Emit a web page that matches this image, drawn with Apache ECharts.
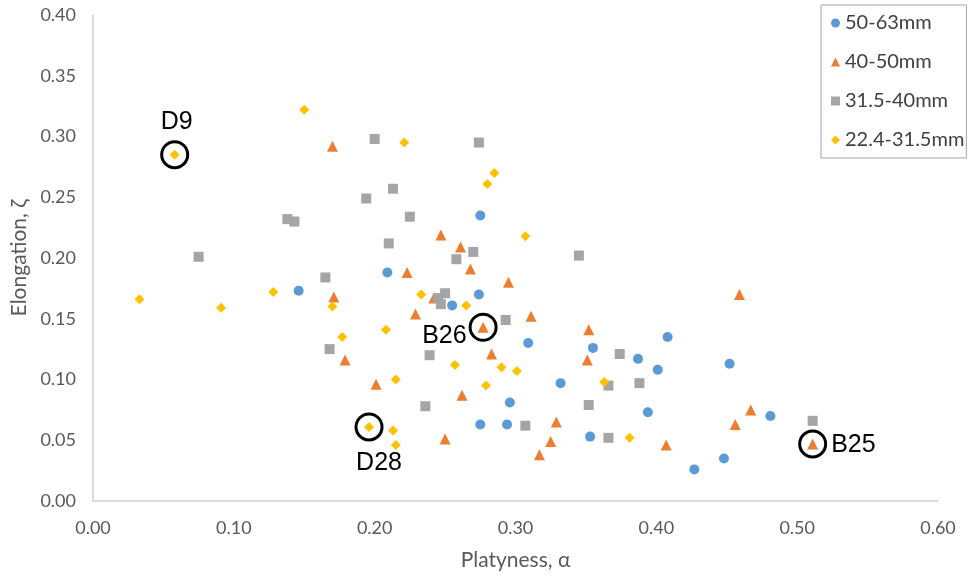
<!DOCTYPE html>
<html><head><meta charset="utf-8">
<script src="https://cdn.jsdelivr.net/npm/echarts@6/dist/echarts.min.js"></script>
<style>html,body{margin:0;padding:0;background:#fff}#c{width:974px;height:576px}</style>
</head><body><div id="c"></div>
<script>
const seriesNames = ['50-63mm', '40-50mm', '31.5-40mm', '22.4-31.5mm'];
const xTicks = [0, 0.1, 0.2, 0.3, 0.4, 0.5, 0.6];
const yTicks = [0, 0.05, 0.1, 0.15, 0.2, 0.25, 0.3, 0.35, 0.4];

const s50_63 = [[0.146,0.173],[0.209,0.188],[0.275,0.235],[0.255,0.161],[0.274,0.170],[0.309,0.130],[0.332,0.097],[0.296,0.081],[0.275,0.063],[0.294,0.063],[0.353,0.053],[0.355,0.126],[0.408,0.135],[0.387,0.117],[0.401,0.108],[0.452,0.113],[0.394,0.073],[0.481,0.070],[0.448,0.035],[0.427,0.026]];
const s40_50 = [[0.170,0.292],[0.247,0.219],[0.261,0.209],[0.268,0.191],[0.223,0.188],[0.295,0.180],[0.171,0.168],[0.242,0.167],[0.229,0.154],[0.277,0.143],[0.311,0.152],[0.179,0.116],[0.283,0.121],[0.201,0.096],[0.262,0.087],[0.250,0.051],[0.329,0.065],[0.325,0.049],[0.317,0.038],[0.459,0.170],[0.352,0.141],[0.351,0.116],[0.467,0.075],[0.456,0.063],[0.407,0.046],[0.511,0.047]];
const s31_40 = [[0.138,0.232],[0.143,0.230],[0.075,0.201],[0.165,0.184],[0.200,0.298],[0.274,0.295],[0.213,0.257],[0.194,0.249],[0.225,0.234],[0.210,0.212],[0.270,0.205],[0.258,0.199],[0.345,0.202],[0.250,0.171],[0.245,0.167],[0.247,0.162],[0.293,0.149],[0.168,0.125],[0.239,0.120],[0.236,0.078],[0.307,0.062],[0.374,0.121],[0.366,0.095],[0.388,0.097],[0.352,0.079],[0.366,0.052],[0.511,0.066]];
const s22_31 = [[0.150,0.322],[0.058,0.285],[0.033,0.166],[0.128,0.172],[0.091,0.159],[0.170,0.160],[0.177,0.135],[0.221,0.295],[0.285,0.270],[0.280,0.261],[0.307,0.218],[0.233,0.170],[0.265,0.161],[0.208,0.141],[0.215,0.100],[0.257,0.112],[0.290,0.110],[0.301,0.107],[0.279,0.095],[0.196,0.061],[0.213,0.058],[0.215,0.046],[0.363,0.098],[0.381,0.052]];

const annotNames = ['D9', 'B26', 'D28', 'B25'];
const annotPoints = [[0.058,0.285],[0.277,0.143],[0.196,0.061],[0.511,0.047]];

const labelStyles = {
  D9:  {position: 'top', distance: 6, offset: [2, 0]},
  B26: {position: 'left', distance: 2, offset: [0, 9]},
  D28: {position: 'bottom', distance: 9, offset: [10, 0]},
  B25: {position: 'right', distance: 4, offset: [0, 1]}
};

const chart = echarts.init(document.getElementById('c'), null, {renderer: 'canvas'});
const tickFont = {fontFamily: 'Lato', fontSize: 18, color: '#595959'};

const mk = (name, data, symbol, size, color) => ({
  name, type: 'scatter', data, symbol, symbolSize: size,
  itemStyle: {color, opacity: 1}, emphasis: {disabled: true}
});

chart.setOption({
  animation: false,
  backgroundColor: '#fff',
  grid: {left: 93, right: 36, top: 15, bottom: 74},
  legend: {
    orient: 'vertical', left: 821, top: 5,
    padding: [8, 2, 8, 10], itemGap: 19, itemWidth: 9, itemHeight: 9,
    borderColor: '#a6a6a6', borderWidth: 1,
    textStyle: {fontFamily: 'Lato', fontSize: 20, color: '#404040', lineHeight: 20},
    data: seriesNames
  },
  xAxis: {
    type: 'value', min: 0, max: 0.6, interval: 0.1,
    name: 'Platyness, α', nameLocation: 'middle', nameGap: 49,
    nameTextStyle: {fontFamily: 'Lato', fontSize: 21, color: '#595959'},
    axisLine: {show: true, lineStyle: {color: '#d0d0d0', width: 1.5}},
    axisTick: {show: false}, splitLine: {show: false},
    axisLabel: Object.assign({margin: 18, formatter: v => v.toFixed(2)}, tickFont)
  },
  yAxis: {
    type: 'value', min: 0, max: 0.4, interval: 0.05,
    name: 'Elongation, ζ', nameLocation: 'middle', nameGap: 62, nameRotate: 90,
    nameTextStyle: {fontFamily: 'Lato', fontSize: 21, color: '#595959'},
    axisLine: {show: true, lineStyle: {color: '#d0d0d0', width: 1.5}},
    axisTick: {show: false}, splitLine: {show: false},
    axisLabel: Object.assign({margin: 17, formatter: v => v.toFixed(2)}, tickFont)
  },
  series: [
    mk(seriesNames[0], s50_63, 'circle', 10, '#5B9BD5'),
    mk(seriesNames[1], s40_50, 'triangle', 11, '#ED7D31'),
    mk(seriesNames[2], s31_40, 'rect', 10, '#A5A5A5'),
    mk(seriesNames[3], s22_31, 'diamond', 10, '#FFC000'),
    {
      name: 'annot', type: 'scatter', symbol: 'circle', symbolSize: 26, z: 10,
      emphasis: {disabled: true},
      itemStyle: {color: 'rgba(0,0,0,0)', borderColor: '#000', borderWidth: 3, opacity: 1},
      data: annotPoints.map((p, i) => ({
        name: annotNames[i], value: p,
        label: Object.assign({show: true, formatter: '{b}', fontFamily: 'Liberation Sans', fontSize: 25, color: '#000'}, labelStyles[annotNames[i]])
      }))
    }
  ]
});
</script></body></html>
